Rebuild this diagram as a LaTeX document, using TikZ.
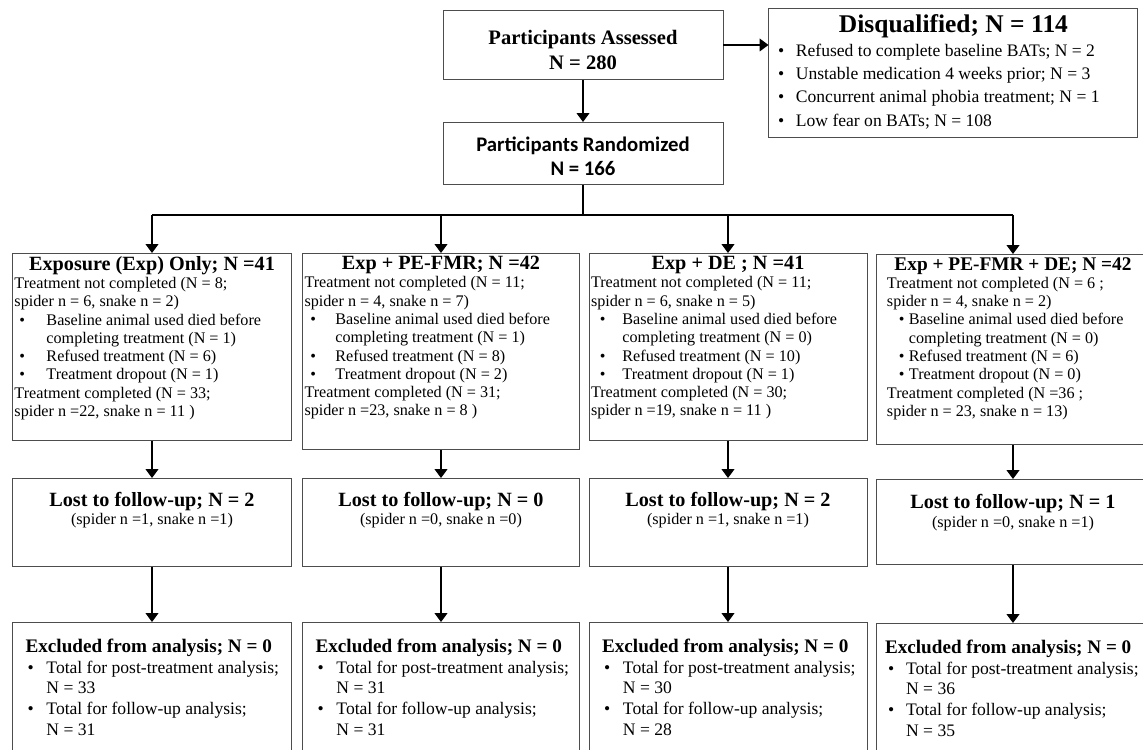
\documentclass[tikz,border=0pt]{standalone}
\usepackage{fontspec}
\setmainfont{Liberation Serif}
\newfontfamily\calfont{Carlito}
\usepackage{tikz}
\usetikzlibrary{positioning, arrows.meta}

\definecolor{boxline}{HTML}{4D4D4D}
\newcommand{\ttl}{\fontsize{11.5}{13}\selectfont\bfseries}
\newcommand{\bdy}{\fontsize{9.2}{10.4}\selectfont}
\newcommand{\xttl}{\fontsize{10.9}{12.5}\selectfont\bfseries}
\newcommand{\xbdy}{\fontsize{10}{11.8}\selectfont}
% bullet item: #1 = bullet offset, #2 = text offset
\newcommand{\bul}[2]{\par\hangindent=#2\hangafter=1\noindent\hspace*{#1}\makebox[\dimexpr#2-#1\relax][l]{\textbullet}}

\begin{document}
\begin{tikzpicture}[
  box/.style={draw=boxline, line width=0.55pt, inner xsep=0.04cm, inner ysep=0pt,
    anchor=north, fill=white},
  arrow/.style={-{Triangle[width=7.2pt,length=5pt]}, line width=0.75pt},
  link/.style={line width=0.75pt},
]
  \useasboundingbox (0,0) rectangle (22.86,-14.98);
  \clip (0,0) rectangle (22.86,-14.98);

  % top of the chart
  \node[box] (assess) at (11.66,-0.2) {\parbox[c][1.38cm][t]{5.52cm}{\centering\vspace*{11.3pt}%
    \fontsize{11.7}{14.2}\selectfont\bfseries Participants Assessed\\N = 280}};
  \node[box, right=0.9cm of assess.north east, anchor=north west, yshift=0.04cm] (disq)
    {\parbox[c][2.58cm][t]{7.30cm}{\raggedright\parskip=0pt\vspace*{3.6pt}%
    {\centering\fontsize{14.5}{17}\selectfont\bfseries Disqualified; N = 114\par}%
    \fontsize{10}{13.3}\selectfont
    \bul{4pt}{14.2pt}Refused to complete baseline BATs; N = 2
    \bul{4pt}{14.2pt}Unstable medication 4 weeks prior; N = 3
    \bul{4pt}{14.2pt}Concurrent animal phobia treatment; N = 1
    \bul{4pt}{14.2pt}Low fear on BATs; N = 108}};
  \node[box, below=0.84cm of assess] (random) {\parbox[c][1.24cm][t]{5.52cm}{\centering\vspace*{8pt}%
    \calfont\fontsize{11.8}{13.7}\selectfont\bfseries Participants Randomized\\N = 166}};
  \coordinate[below=0.6cm of random] (split);

  % treatment arms
  \node[box] (c1) at (3.04,-5.06) {\parbox[c][3.74cm][t]{5.50cm}{\raggedright\parskip=0pt\vspace*{1.6pt}%
    {\centering\ttl Exposure (Exp) Only; N =41\par}%
    \bdy Treatment not completed (N = 8;\newline spider n = 6, snake n = 2)
    \bul{2.8pt}{18.2pt}Baseline animal used died before\newline completing treatment (N = 1)
    \bul{2.8pt}{18.2pt}Refused treatment (N = 6)
    \bul{2.8pt}{18.2pt}Treatment dropout (N = 1)
    \par Treatment completed (N = 33;\newline spider n =22, snake n = 11 )}};
  \node[box] (c2) at (8.82,-5.06) {\parbox[c][3.92cm][t]{5.46cm}{\raggedright\parskip=0pt\vspace*{1.6pt}%
    {\centering\ttl Exp + PE-FMR; N =42\par}%
    \bdy Treatment not completed (N = 11;\newline spider n = 4, snake n = 7)
    \bul{3.4pt}{17.6pt}Baseline animal used died before\newline completing treatment (N = 1)
    \bul{3.4pt}{17.6pt}Refused treatment (N = 8)
    \bul{3.4pt}{17.6pt}Treatment dropout (N = 2)
    \par Treatment completed (N = 31;\newline spider n =23, snake n = 8 )}};
  \node[box] (c3) at (14.56,-5.06) {\parbox[c][3.74cm][t]{5.48cm}{\raggedright\parskip=0pt\vspace*{1.6pt}%
    {\centering\ttl Exp + DE ; N =41\par}%
    \bdy Treatment not completed (N = 11;\newline spider n = 6, snake n = 5)
    \bul{5.1pt}{17.9pt}Baseline animal used died before\newline completing treatment (N = 0)
    \bul{5.1pt}{17.9pt}Refused treatment (N = 10)
    \bul{5.1pt}{17.9pt}Treatment dropout (N = 1)
    \par Treatment completed (N = 30;\newline spider n =19, snake n = 11 )}};
  \node[box] (c4) at (20.26,-5.08) {\parbox[c][3.80cm][t]{5.40cm}{\raggedright\parskip=0pt\vspace*{1.6pt}%
    {\centering\fontsize{11}{13}\selectfont\bfseries Exp + PE-FMR + DE; N =42\par}%
    \leftskip=5.1pt
    \bdy Treatment not completed (N = 6 ;\newline spider n = 4, snake n = 2)
    \bul{6.8pt}{12.5pt}Baseline animal used died before\newline completing treatment (N = 0)
    \bul{6.8pt}{12.5pt}Refused treatment (N = 6)
    \bul{6.8pt}{12.5pt}Treatment dropout (N = 0)
    \par Treatment completed (N =36 ;\newline spider n = 23, snake n = 13)}};

  % follow-up
  \node[box] (l1) at (3.04,-9.56) {\parbox[c][1.76cm][t]{5.50cm}{\centering\vspace*{7.8pt}%
    {\ttl Lost to follow-up; N = 2\par}\bdy (spider n =1, snake n =1)}};
  \node[box] (l2) at (8.82,-9.56) {\parbox[c][1.76cm][t]{5.46cm}{\centering\vspace*{7.8pt}%
    {\ttl Lost to follow-up; N = 0\par}\bdy (spider n =0, snake n =0)}};
  \node[box] (l3) at (14.56,-9.56) {\parbox[c][1.76cm][t]{5.48cm}{\centering\vspace*{7.8pt}%
    {\ttl Lost to follow-up; N = 2\par}\bdy (spider n =1, snake n =1)}};
  \node[box] (l4) at (20.26,-9.58) {\parbox[c][1.70cm][t]{5.40cm}{\centering\vspace*{8.6pt}%
    {\ttl Lost to follow-up; N = 1\par}\bdy (spider n =0, snake n =1)}};

  % analysis
  \node[box] (x1) at (3.04,-12.44) {\parbox[c][2.8cm][t]{5.50cm}{\raggedright\parskip=0pt\vspace*{9.3pt}%
    \hspace*{6.3pt}{\xttl Excluded from analysis; N = 0}\par\xbdy
    \bul{7.4pt}{18.2pt}Total for post-treatment analysis;\newline N = 33
    \bul{7.4pt}{18.2pt}Total for follow-up analysis;\newline N = 31}};
  \node[box] (x2) at (8.82,-12.44) {\parbox[c][2.8cm][t]{5.46cm}{\raggedright\parskip=0pt\vspace*{9.3pt}%
    \hspace*{6.3pt}{\xttl Excluded from analysis; N = 0}\par\xbdy
    \bul{7.4pt}{18.2pt}Total for post-treatment analysis;\newline N = 31
    \bul{7.4pt}{18.2pt}Total for follow-up analysis;\newline N = 31}};
  \node[box] (x3) at (14.56,-12.44) {\parbox[c][2.8cm][t]{5.48cm}{\raggedright\parskip=0pt\vspace*{9.3pt}%
    \hspace*{6.3pt}{\xttl Excluded from analysis; N = 0}\par\xbdy
    \bul{7.4pt}{18.2pt}Total for post-treatment analysis;\newline N = 30
    \bul{7.4pt}{18.2pt}Total for follow-up analysis;\newline N = 28}};
  \node[box] (x4) at (20.26,-12.46) {\parbox[c][2.8cm][t]{5.40cm}{\raggedright\parskip=0pt\vspace*{9.3pt}%
    \hspace*{4pt}{\xttl Excluded from analysis; N = 0}\par\xbdy
    \bul{5.7pt}{16pt}Total for post-treatment analysis;\newline N = 36
    \bul{5.7pt}{16pt}Total for follow-up analysis;\newline N = 35}};

  \draw[arrow] (assess) -- (assess -| disq.west);
  \draw[arrow] (assess) -- (random);
  \draw[link] (random) -- (split);
  \draw[link] (split -| c1) -- (split -| c4);
  \foreach \n in {c1, c2, c3, c4} \draw[arrow] (split -| \n) -- (\n);
  \foreach \i in {1, 2, 3, 4} {
    \draw[arrow] (c\i) -- (l\i);
    \draw[arrow] (l\i) -- (x\i);
  }
\end{tikzpicture}
\end{document}
